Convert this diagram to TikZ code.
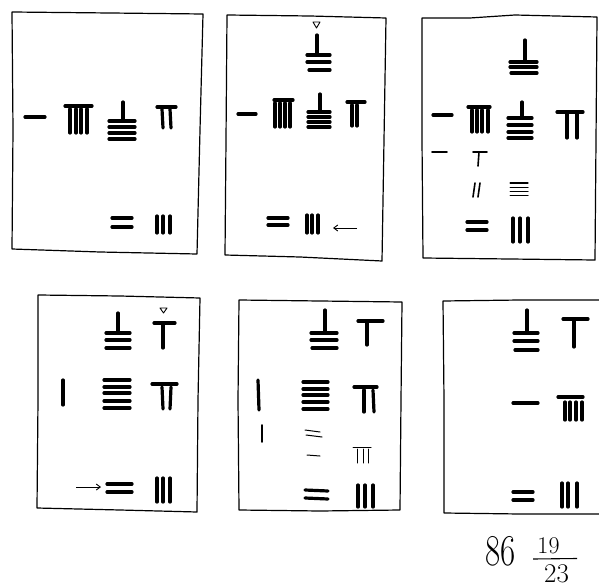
\documentclass[tikz,border=0pt]{standalone}
\usetikzlibrary{arrows.meta}
\begin{document}
\begin{tikzpicture}[x=1pt,y=-1pt,
  frame/.style={line width=1.2pt,line join=round},
  rod/.style={line width=3.2pt,line cap=round},
  thinrod/.style={line width=1.6pt,line cap=round},
  hair/.style={line width=1.0pt,line cap=round},
  tri/.style={line width=0.9pt,line join=round},
  pointer/.style={line width=0.9pt,-{Straight Barb[length=4pt,width=6pt]}},
  hand/.style={inner sep=0pt}]
\useasboundingbox (0,0) rectangle (599,588);
\clip (0,0) rectangle (599,588);
% ---------- frames
\draw[frame] (12,12) -- (110,13) -- (203,14) -- (200,130) -- (197,254) -- (100,252) -- (12,249) -- (13,130) -- cycle;
\draw[frame] (227,15) -- (310,16) -- (386,18) -- (384,140) -- (382,261) -- (300,257) -- (225,255) -- (226,140) -- cycle;
\draw[frame] (422,18) -- (470,18) -- (515,15) -- (597,17) -- (596,140) -- (595,260) -- (510,259) -- (423,258) -- (422,140) -- cycle;
\draw[frame] (38,295) -- (120,296) -- (200,298) -- (198,400) -- (197,512) -- (120,510) -- (37,508) -- (38,400) -- cycle;
\draw[frame] (239,300) -- (320,301) -- (402,302) -- (401,400) -- (400,510) -- (320,511) -- (239,510) -- (238,400) -- cycle;
\draw[frame] (605,300) -- (520,300) -- (443,301) -- (444,400) -- (444,513) -- (520,514) -- (605,514);
% ---------- panel 1
\draw[rod] (25,117) -- (45,117);
\draw[rod] (65,106) -- (92,106);
\foreach \x in {70,76,81,87} \draw[rod] (\x,109) -- (\x,133);
\draw[rod] (123,102) -- (123,119);
\foreach \y in {121,127,133,139} \draw[rod] (109,\y) -- (135,\y);
\draw[rod] (157,107) -- (176,107);
\draw[rod] (162,109) -- (163,128);
\draw[rod] (170,109) -- (171,128);
\draw[rod] (112,218) -- (132,218);
\draw[rod] (112,227) -- (132,227);
\foreach \x in {157,163,170} \draw[rod] (\x,216) -- (\x,233);
% ---------- panel 2
\draw[tri] (313,22) -- (320,22) -- (316.5,28) -- cycle;
\draw[rod] (317,35) -- (317,55);
\draw[rod] (307,55) -- (330,55);
\draw[rod] (307,62) -- (330,62);
\draw[rod] (309,70) -- (330,70);
\draw[rod] (238,114) -- (256,114);
\draw[rod] (274,100) -- (293,100);
\foreach \x in {275,280,285,290} \draw[rod] (\x,103) -- (\x,127);
\draw[rod] (320,94) -- (320,110);
\foreach \y in {112,117,122,127} \draw[rod] (308,\y) -- (330,\y);
\draw[rod] (347,102) -- (365,102);
\draw[rod] (352,105) -- (352,126);
\draw[rod] (357,105) -- (357,126);
\draw[rod] (268,218) -- (288,218);
\draw[rod] (268,225) -- (288,225);
\foreach \x in {307,312,318} \draw[rod] (\x,215) -- (\x,233);
\coordinate (a2s) at (357,228);
\coordinate (a2e) at (333,228);
\draw[pointer] (a2s) -- (a2e);
% ---------- panel 3
\draw[rod] (525,40) -- (525,62);
\draw[rod] (510,62) -- (537,62);
\draw[rod] (510,67) -- (537,67);
\draw[rod] (511,73) -- (537,73);
\draw[rod] (433,115) -- (452,115);
\draw[rod] (468,107) -- (490,107);
\foreach \x in {472,477,482,488} \draw[rod] (\x,110) -- (\x,132);
\draw[rod] (522,102) -- (522,118);
\foreach \y in {118,125,132,138} \draw[rod] (508,\y) -- (532,\y);
\draw[rod] (557,112) -- (583,112);
\draw[rod] (567,113) -- (567,138);
\draw[rod] (577,113) -- (577,138);
\draw[thinrod] (432,152) -- (447,152);
\draw[thinrod] (473,152) -- (487,152);
\draw[thinrod] (479,152) -- (478,166);
\draw[thinrod] (475,183) -- (473,197);
\draw[thinrod] (480,183) -- (478,197);
\foreach \y in {183,187,191,195} \draw[hair] (510,\y) -- (528,\y);
\draw[rod] (467,222) -- (487,222);
\draw[rod] (467,230) -- (487,230);
\foreach \x in {513,520,528} \draw[rod] (\x,218) -- (\x,242);
% ---------- panel 4
\draw[rod] (118,313) -- (118,333);
\draw[rod] (106,333) -- (130,333);
\draw[rod] (106,340) -- (130,340);
\draw[rod] (106,348) -- (130,348);
\draw[tri] (160,308) -- (167,308) -- (163.5,313) -- cycle;
\draw[rod] (154,323) -- (175,323);
\draw[rod] (163,323) -- (163,348);
\draw[rod] (63,380) -- (63,405);
\foreach \y in {380,387,393,401,408} \draw[rod] (104,\y) -- (130,\y);
\draw[rod] (152,384) -- (177,384);
\draw[rod] (162,387) -- (163,409);
\draw[rod] (171,387) -- (170,409);
\coordinate (a4s) at (76,487);
\coordinate (a4e) at (101,487);
\draw[pointer] (a4s) -- (a4e);
\draw[rod] (107,484) -- (132,484);
\draw[rod] (107,492) -- (132,492);
\foreach \x in {157,163,170} \draw[rod] (\x,478) -- (\x,502);
% ---------- panel 5
\draw[rod] (325,310) -- (325,333);
\draw[rod] (311,333) -- (337,333);
\draw[rod] (311,340) -- (337,340);
\draw[rod] (312,348) -- (337,348);
\draw[rod] (358,321) -- (383,321);
\draw[rod] (367,322) -- (367,345);
\draw[rod] (258,380) -- (259,410);
\foreach \y in {382,389,395,402,409} \draw[rod] (303,\y) -- (328,\y);
\draw[rod] (354,387) -- (377,387);
\draw[rod] (364,390) -- (364,412);
\draw[rod] (373,390) -- (374,412);
\draw[thinrod] (262,425) -- (262,442);
\draw[hair] (305,430) -- (320,432);
\draw[hair] (306,435) -- (322,437);
\draw[hair] (307,455) -- (320,456);
\draw[hair] (353,447) -- (371,447);
\foreach \x in {357,363,368} \draw[hair] (\x,449) -- (\x,463);
\draw[rod] (305,490) -- (328,491);
\draw[rod] (305,498) -- (328,499);
\foreach \x in {358,365,373} \draw[rod] (\x,485) -- (\x,507);
% ---------- panel 6
\draw[rod] (527,310) -- (527,333);
\draw[rod] (514,333) -- (538,333);
\draw[rod] (514,341) -- (538,341);
\draw[rod] (515,350) -- (538,350);
\draw[rod] (563,319) -- (588,319);
\draw[rod] (574,320) -- (574,347);
\draw[rod] (513,403) -- (538,403);
\draw[rod] (558,397) -- (583,397);
\foreach \x in {565,570,576,582} \draw[rod] (\x,402) -- (\x,420);
\draw[rod] (513,492) -- (533,492);
\draw[rod] (513,500) -- (533,500);
\foreach \x in {562,568,577} \draw[rod] (\x,483) -- (\x,507);
% ---------- result  86 19/23
\node[hand,anchor=base west,xscale=0.75] (whole) at (485,565) {\fontsize{44}{46}\selectfont 86};
\node[hand,anchor=base] (num) at (548.5,553) {\fontsize{24}{26}\selectfont 19};
\node[hand,anchor=base] (den) at (556.5,582) {\fontsize{27}{29}\selectfont 23};
\draw[line width=1.1pt] (533,559) -- (577,558.5);
\end{tikzpicture}
\end{document}
